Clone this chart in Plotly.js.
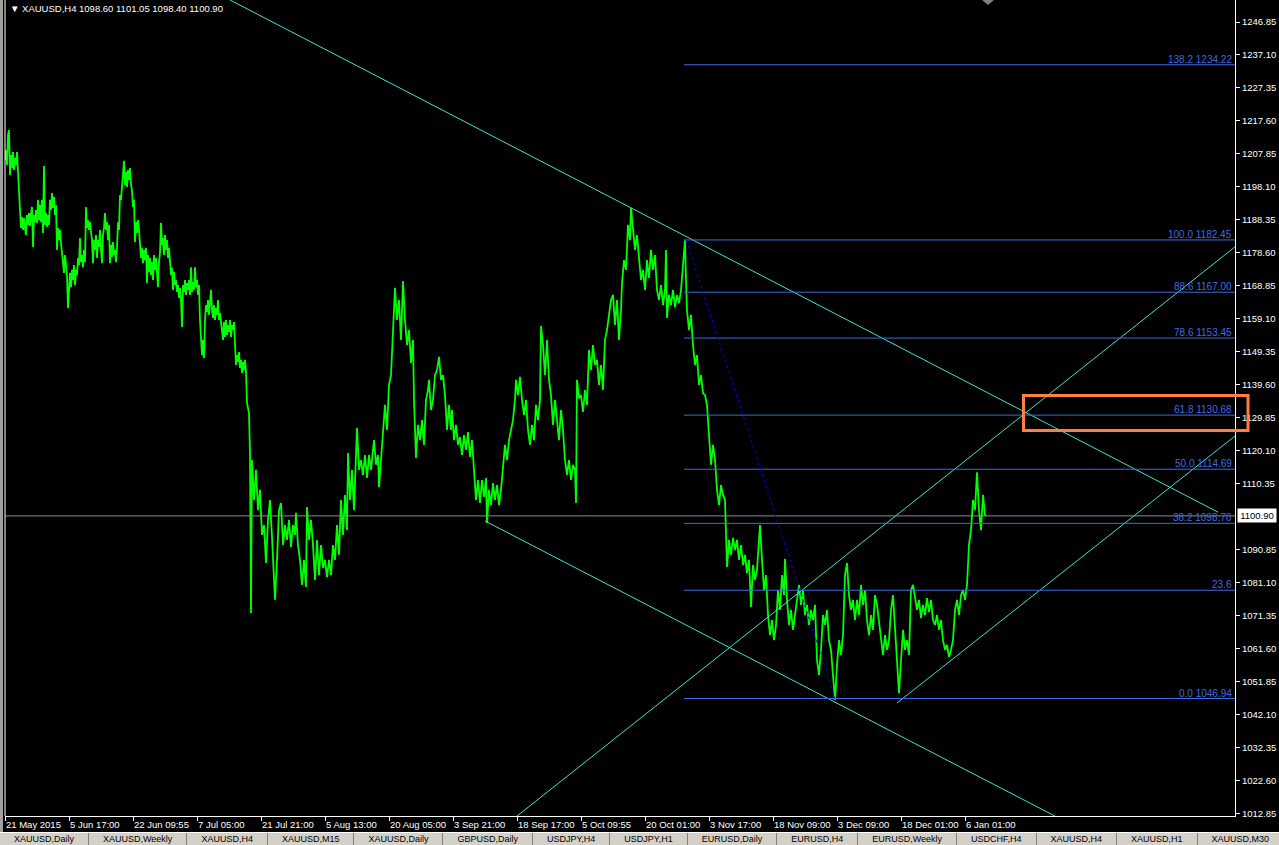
<!DOCTYPE html>
<html><head><meta charset="utf-8">
<script src="https://cdn.plot.ly/plotly-3.0.1.min.js"></script>
<style>
html,body{margin:0;padding:0;background:#000;overflow:hidden;width:1279px;height:845px;}
#chart{position:absolute;left:0;top:0;width:1279px;height:845px;}
#frame{position:absolute;left:0;top:0;width:3px;height:832px;background:#a0a0a0;}
#tabs{position:absolute;left:0;top:832px;width:1279px;height:13px;background:#d4d0c8;border-top:1px solid #fff;overflow:hidden;font:9px "Liberation Sans",Arial,sans-serif;color:#000;white-space:nowrap;}
#tabs span{display:inline-block;box-sizing:border-box;padding:1px 14px 0 14px;border-right:1px solid #808080;height:13px;line-height:11px;vertical-align:top;}
</style></head><body>
<div id="chart"></div>
<div id="frame"></div>
<div id="tabs"></div>
<script>
// ---------------- data ----------------
var symbolLabel = "XAUUSD,H4";
var lastOHLC = [1098.60, 1101.05, 1098.40, 1100.90];

// price path, bars 0..244 (one point per bar)
var priceA = [
1206.1,1209.0,1204.6,1213.5,1214.9,1201.6,1207.5,1203.7,1208.4,1203.1,
1206.7,1204.6,1208.4,1203.7,1198.7,1191.3,1186.0,1189.2,1185.4,1188.9,
1186.0,1183.9,1189.8,1186.9,1190.4,1186.6,1190.1,1192.2,1180.4,1189.8,
1187.7,1191.3,1187.5,1194.3,1188.3,1192.8,1187.7,1194.3,1184.5,1204.3,
1186.9,1190.4,1186.3,1189.8,1186.9,1194.3,1191.3,1196.3,1191.9,1195.1,
1189.8,1192.8,1179.5,1186.0,1182.4,1185.4,1181.5,1178.0,1174.4,1172.7,
1178.0,1175.0,1172.1,1162.3,1170.6,1172.7,1168.5,1173.6,1170.6,1175.0,
1169.1,1173.6,1172.1,1177.1,1175.0,1183.0,1175.9,1178.0,1174.4,1179.5,
1175.9,1192.2,1186.0,1188.3,1185.4,1187.7,1184.8,1182.4,1175.6,1182.4,
1179.5,1183.9,1177.1,1182.4,1180.4,1185.4,1179.5,1175.6,1183.9,1186.0,
1190.4,1185.4,1187.7,1182.4,1186.9,1175.6,1181.0,1177.4,1181.8,1178.0,
1179.5,1175.9,1180.1,1187.7,1185.4,1195.7,1194.3,1198.1,1203.1,1205.8,
1198.7,1202.5,1198.1,1203.1,1200.2,1203.7,1198.7,1197.2,1192.2,1194.3,
1181.8,1187.7,1184.5,1188.3,1185.4,1181.0,1177.1,1180.1,1175.6,1179.5,
1176.5,1180.1,1169.7,1178.0,1173.0,1177.1,1172.1,1175.9,1170.6,1178.0,
1173.6,1177.1,1172.1,1168.5,1175.9,1178.6,1187.5,1181.0,1183.0,1178.0,
1183.9,1179.5,1182.4,1177.1,1180.1,1175.0,1172.1,1174.2,1167.7,1173.0,
1169.1,1170.6,1167.1,1169.1,1165.3,1168.2,1164.7,1156.7,1169.1,1167.1,
1170.6,1166.2,1169.7,1167.7,1170.6,1166.2,1174.4,1167.1,1170.0,1167.7,
1174.4,1168.5,1170.6,1166.2,1169.1,1158.8,1154.4,1148.4,1152.9,1147.6,
1158.8,1163.2,1161.2,1164.7,1160.3,1163.8,1167.7,1161.7,1159.4,1163.2,
1158.8,1162.3,1160.3,1164.7,1158.8,1160.9,1157.9,1155.8,1152.9,1158.2,
1153.8,1158.8,1154.4,1157.3,1155.2,1158.8,1153.8,1157.3,1155.8,1158.2,
1149.9,1145.5,1148.4,1146.4,1149.3,1144.6,1147.0,1143.1,1146.4,1144.0,
1147.0,1143.4,1134.3,1132.2,1131.3
];

// price path from bar 245 on
var barsB = [
245,246,247,249,251,253,255,257,259,261,
263,265,267,269,270,272,274,276,278,280,
282,284,286,288,290,291,293,295,297,299,
301,302,304,306,308,310,312,314,316,318,
320,322,324,326,328,330,332,334,336,338,
340,342,343,345,347,349,351,352,354,356,
358,360,362,364,366,368,369,371,373,374,
376,378,380,382,384,386,388,389,390,392,
394,396,398,400,402,404,406,408,409,411,
413,415,417,419,421,423,424,426,428,430,
432,434,436,438,440,442,444,446,447,449,
451,453,455,457,459,461,463,465,467,469,
471,473,475,477,479,481,482,484,486,488,
490,492,494,496,498,500,502,504,506,508,
510,511,513,515,517,519,521,523,525,527,
529,531,533,535,536,538,540,542,544,546,
548,550,552,554,556,558,560,562,564,566,
568,570,571,572,574,576,578,580,582,584,
586,588,590,592,594,596,598,600,602,604,
606,608,610,612,614,616,617,619,621,623,
625,626,628,630,632,634,636,638,640,642,
644,646,648,650,652,654,656,658,660,661,
662,664,666,668,670,672,674,676,678,680,
681,682,684,686,688,690,692,694,696,698,
700,702,704,706,708,710,712,714,716,718,
720,721,722,724,726,728,730,732,734,736,
738,740,742,744,746,748,750,752,754,755,
757,759,761,763,765,767,769,771,773,775,
777,779,780,782,784,786,788,790,792,794,
796,798,800,802,804,806,808,810,812,814,
816,818,820,822,824,826,828,830,832,834,
836,838,840,842,844,846,848,850,852,854,
856,858,860,862,864,866,868,870,872,874,
876,878,880,882,884,886,888,890,892,894,
896,898,900,902,904,906,908,910,912,914,
916,918,920,922,924,926,928,930,932,934,
936,938,940,942,944,946,948,950,952,954,
956,958,960,962,964,966,968,970,972,974,
976,978,980,981
];
var priceB = [
1119.5,1072.2,1117.4,1105.6,1114.5,1102.6,1108.6,1095.3,1098.2,1087.0,
1099.7,1105.6,1094.7,1079.0,1076.1,1087.9,1102.6,1104.7,1092.3,1098.2,
1093.8,1099.7,1091.7,1098.2,1095.3,1101.8,1092.3,1087.9,1080.5,1087.9,
1079.9,1103.5,1093.8,1099.7,1092.3,1082.0,1093.8,1083.4,1092.3,1085.5,
1087.9,1082.8,1087.9,1083.4,1092.3,1087.9,1098.2,1089.4,1105.6,1095.3,
1107.1,1096.7,1119.5,1105.6,1114.5,1102.6,1121.9,1126.9,1114.5,1117.4,
1113.0,1118.9,1112.1,1118.9,1114.5,1120.4,1123.3,1116.0,1118.9,1109.4,
1117.4,1123.3,1133.7,1126.3,1139.6,1142.5,1155.8,1164.7,1168.3,1158.8,
1164.7,1152.9,1170.3,1158.8,1151.4,1155.8,1146.1,1152.9,1135.2,1118.0,
1127.8,1123.3,1129.2,1121.9,1135.2,1138.1,1141.1,1132.2,1135.2,1142.5,
1144.0,1147.9,1141.1,1142.5,1136.6,1126.3,1133.7,1126.3,1132.2,1123.3,
1127.8,1121.9,1124.2,1118.9,1124.8,1120.4,1125.7,1118.3,1123.3,1114.5,
1105.6,1111.5,1104.7,1111.5,1106.5,1112.1,1098.8,1108.6,1104.1,1110.6,
1105.6,1110.0,1104.1,1108.6,1116.0,1121.9,1117.4,1123.3,1126.3,1129.2,
1135.2,1141.1,1136.6,1142.0,1135.2,1130.7,1135.2,1126.3,1121.9,1127.8,
1123.3,1133.7,1129.2,1135.2,1157.0,1151.4,1142.5,1152.9,1141.1,1136.6,
1127.8,1135.2,1129.2,1123.3,1132.2,1126.3,1117.4,1113.0,1117.4,1111.5,
1116.0,1114.5,1104.7,1141.1,1135.7,1136.6,1131.6,1138.1,1133.7,1149.9,
1144.0,1151.4,1145.5,1147.0,1139.6,1145.5,1138.1,1152.9,1155.8,1159.7,
1164.7,1166.2,1157.3,1164.7,1152.9,1161.7,1169.7,1176.5,1173.6,1186.9,
1182.4,1191.9,1185.4,1179.5,1183.9,1175.9,1170.6,1173.6,1167.7,1176.5,
1171.2,1179.5,1173.6,1178.0,1167.7,1164.7,1169.1,1163.2,1167.7,1179.5,
1159.4,1166.2,1163.2,1167.7,1162.6,1166.2,1163.8,1167.7,1175.0,1182.4,
1170.6,1161.7,1155.8,1160.3,1151.4,1145.5,1148.4,1139.6,1142.5,1137.2,
1136.6,1133.7,1124.8,1116.0,1121.9,1117.4,1108.6,1104.1,1110.0,1107.1,
1105.6,1092.3,1085.8,1093.8,1089.4,1094.4,1090.8,1093.8,1087.9,1092.3,
1086.4,1089.4,1084.0,1087.9,1074.0,1086.4,1082.0,1084.9,1093.8,1098.2,
1087.9,1079.0,1083.4,1071.6,1065.7,1070.1,1064.2,1068.7,1079.0,1073.1,
1083.4,1077.5,1088.2,1076.1,1068.7,1073.1,1067.2,1071.6,1076.1,1080.5,
1074.6,1079.0,1071.6,1074.6,1068.7,1073.1,1070.1,1074.6,1058.3,1053.9,
1061.3,1071.6,1068.7,1073.1,1064.2,1061.3,1053.9,1046.5,1056.8,1064.2,
1059.8,1065.7,1083.4,1087.0,1077.5,1073.1,1076.1,1070.1,1076.1,1071.6,
1080.5,1074.6,1079.0,1070.1,1065.7,1071.6,1067.2,1077.5,1074.6,1070.1,
1064.2,1059.8,1065.7,1061.3,1064.2,1073.1,1077.5,1068.7,1056.8,1048.5,
1058.3,1067.2,1061.3,1064.2,1059.8,1079.0,1080.5,1076.1,1073.1,1076.1,
1070.7,1074.6,1071.6,1076.6,1072.5,1076.1,1070.1,1068.7,1071.6,1067.2,
1070.1,1064.2,1061.3,1062.8,1059.2,1061.3,1064.2,1073.1,1076.1,1071.6,
1077.5,1079.0,1076.1,1080.5,1092.3,1096.7,1105.6,1102.6,1113.8,1102.6,
1096.7,1107.1,1101.2,1100.9
];

// x axis date ticks (bar index -> label)
var dateTickBars = [0,64,128,192,256,320,384,448,512,576,640,704,768,832,896,960];
var dateLabels = ["21 May 2015","5 Jun 17:00","22 Jun 09:55","7 Jul 05:00","21 Jul 21:00","5 Aug 13:00",
  "20 Aug 05:00","3 Sep 21:00","18 Sep 17:00","5 Oct 09:55","20 Oct 01:00","3 Nov 17:00",
  "18 Nov 09:00","3 Dec 09:00","18 Dec 01:00","6 Jan 01:00"];

// price axis ticks (1100.60 sits under the current-price box)
var priceTicks = [1012.85,1022.60,1032.35,1042.10,1051.85,1061.60,1071.35,1081.10,1090.85,
  1110.35,1120.10,1129.85,1139.60,1149.35,1159.10,1168.85,1178.60,1188.35,1198.10,1207.85,1217.60,
  1227.35,1237.10,1246.85];

// Fibonacci retracement
var fibPct   = [138.2, 100.0, 88.6, 78.6, 61.8, 50.0, 38.2, 23.6, 0.0];
var fibPrice = [1234.22, 1182.45, 1167.00, 1153.45, 1130.68, 1114.69, 1098.70, 1078.93, 1046.94];
var fibShowPrice = [true, true, true, true, true, true, true, false, true];
var fibStartBar = 679;
var fibAnchorBars = [681, 830];
var fibAnchorPrices = [1182.45, 1046.94];

// trend lines (two points each: bars, prices)
var upperChannelBars = [225, 1213],  upperChannelPrices = [1253.35, 1102.0];
var lowerChannelBars = [480, 1050],  lowerChannelPrices = [1099.4, 1012.2];
var risingLine1Bars  = [512, 1230],  risingLine1Prices  = [1012.2, 1180.4];
var risingLine2Bars  = [892, 1230],  risingLine2Prices  = [1045.6, 1124.5];

// highlighted zone (orange box)
var zoneBars = [1018.5, 1243];
var zonePrices = [1126.14, 1136.48];

// chart shift marker bar
var shiftBar = 983;

// bottom tabs
var tabLabels = ["XAUUSD,Daily","XAUUSD,Weekly","XAUUSD,H4","XAUUSD,M15","XAUUSD,Daily","GBPUSD,Daily",
  "USDJPY,H4","USDJPY,H1","EURUSD,Daily","EURUSD,H4","EURUSD,Weekly","USDCHF,H4","XAUUSD,H4","XAUUSD,H1","XAUUSD,M30"];

// ---------------- drawing ----------------
var FONT = '"Liberation Sans",Arial,sans-serif';
var X_RANGE = [0, 1230];
var Y_RANGE = [1012.22, 1253.35];
var CYAN = '#40E0D0', FIB = '#4169E1';

var barsA = priceA.map(function(_, i){ return i; });
var traces = [];
traces.push({x: barsA.concat(barsB), y: priceA.concat(priceB), type:'scatter', mode:'lines',
  line:{color:'#00FF00', width:1.8}, hoverinfo:'skip'});

function seg(xs, ys, color, dash){
  traces.push({x: xs, y: ys, type:'scatter', mode:'lines', line:{color: color, width:1, dash: dash||'solid'}, hoverinfo:'skip'});
}
seg(upperChannelBars, upperChannelPrices, CYAN);
seg(lowerChannelBars, lowerChannelPrices, CYAN);
seg(risingLine1Bars, risingLine1Prices, CYAN);
seg(risingLine2Bars, risingLine2Prices, CYAN);

var close = lastOHLC[3];
seg([X_RANGE[0], X_RANGE[1]], [close, close], '#8c8c8c');

fibPrice.forEach(function(p){ seg([fibStartBar, X_RANGE[1]], [p, p], FIB); });
seg(fibAnchorBars, fibAnchorPrices, '#0000FF', 'dot');

var annotations = [];
fibPrice.forEach(function(p, i){
  annotations.push({x: X_RANGE[1], y: p, xref:'x', yref:'y', xanchor:'right', yanchor:'bottom',
    text: fibPct[i].toFixed(1) + (fibShowPrice[i] ? ' ' + p.toFixed(2) : ''), showarrow:false,
    font:{family: FONT, size: 10, color: FIB}, xshift: -1, yshift: -2});
});
dateTickBars.forEach(function(b, i){
  annotations.push({x: b, y: 0, xref:'x', yref:'paper', xanchor:'left', yanchor:'top', yshift: -1, xshift: -1,
    text: dateLabels[i], showarrow:false, font:{family: FONT, size: 9.5, color:'#fff'}});
});
annotations.push({x: 1 + 2/1230, y: close, xref:'paper', yref:'y', xanchor:'left', yanchor:'middle',
  text: close.toFixed(2), showarrow:false, bgcolor:'#ffffff', width: 36, height: 11, borderpad: 1,
  font:{family: FONT, size: 9.5, color:'#000'}});
annotations.push({x: 3/1230, y: 1, xref:'paper', yref:'paper', xanchor:'left', yanchor:'top', yshift: -1,
  text: '▼ ' + symbolLabel + ' ' + lastOHLC.map(function(v){return v.toFixed(2);}).join(' '),
  showarrow:false, font:{family: FONT, size: 9.5, color:'#fff'}});

function px(b){ return (b - X_RANGE[0])/(X_RANGE[1]-X_RANGE[0]); }
function py(p){ return (p - Y_RANGE[0])/(Y_RANGE[1]-Y_RANGE[0]); }
var sx = px(shiftBar), hw = 6/1230, hh = 5/816;
var shapes = [
  {type:'line', xref:'paper', yref:'paper', x0:0, x1:0, y0:0, y1:1, line:{color:'#ffffff', width:1}},
  {type:'rect', xref:'paper', yref:'paper', x0:px(zoneBars[0]), x1:px(zoneBars[1]), y0:py(zonePrices[0]), y1:py(zonePrices[1]),
    line:{color:'#FF7F3F', width:3}, fillcolor:'rgba(0,0,0,0)', layer:'above'},
  {type:'path', xref:'paper', yref:'paper', path:'M'+(sx-hw)+',1 L'+(sx+hw)+',1 L'+sx+','+(1-hh)+' Z',
    fillcolor:'#808080', line:{width:0}}
];

var layout = {
  width:1279, height:845, paper_bgcolor:'#000', plot_bgcolor:'#000',
  margin:{l:5, r:44, t:0, b:29}, showlegend:false, hovermode:false,
  xaxis:{range:X_RANGE, tickvals:dateTickBars, ticks:'outside', ticklen:4, tickcolor:'#fff', showticklabels:false,
    showline:true, linecolor:'#fff', linewidth:1, showgrid:false, zeroline:false},
  yaxis:{range:Y_RANGE, side:'right', tickvals:priceTicks, tickformat:'.2f', ticks:'outside', ticklen:4, tickcolor:'#fff',
    showline:true, linecolor:'#fff', linewidth:1, showgrid:false, zeroline:false,
    tickfont:{family:FONT, size:9.5, color:'#fff'}},
  annotations: annotations, shapes: shapes
};
Plotly.newPlot('chart', traces, layout, {staticPlot:true, displayModeBar:false});

var tabs = document.getElementById('tabs');
tabLabels.forEach(function(t){ var s = document.createElement('span'); s.textContent = t; tabs.appendChild(s); });
</script>
</body></html>
